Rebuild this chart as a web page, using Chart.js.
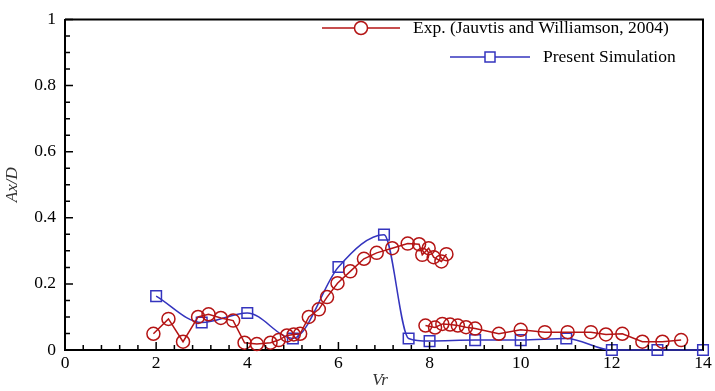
<!DOCTYPE html>
<html>
<head>
<meta charset="utf-8">
<script src="https://cdn.jsdelivr.net/npm/chart.js@4"></script>
<style>
  html, body { margin: 0; padding: 0; background: #fff; }
  #wrap { width: 715px; height: 391px; }
</style>
</head>
<body>
<div id="wrap"><canvas id="chart" width="715" height="391"></canvas></div>
<script>
// Experiment (Jauvtis & Williamson 2004) - upper branch
const expVrUpper = [1.94, 2.27, 2.59, 2.92, 3.15, 3.42, 3.69, 3.94, 4.21, 4.51, 4.69, 4.87, 5.02, 5.16,
    5.35, 5.57, 5.75, 5.98, 6.26, 6.56, 6.84, 7.18, 7.52, 7.77, 7.84, 7.98, 8.09, 8.26, 8.37];
const expAxUpper = [0.049, 0.094, 0.025, 0.100, 0.108, 0.097, 0.089, 0.022, 0.018, 0.022, 0.030, 0.044, 0.047, 0.049,
    0.100, 0.123, 0.160, 0.202, 0.238, 0.276, 0.294, 0.308, 0.322, 0.320, 0.288, 0.308, 0.281, 0.268, 0.290];
// lower branch
const expVrLower = [7.91, 8.12, 8.28, 8.45, 8.62, 8.80, 9.00, 9.52, 10.0, 10.53, 11.03, 11.54, 11.87, 12.23, 12.67, 13.11, 13.52];
const expAxLower = [0.074, 0.068, 0.079, 0.077, 0.074, 0.069, 0.065, 0.049, 0.061, 0.054, 0.054, 0.054, 0.047, 0.049, 0.025, 0.025, 0.030];

// Present simulation
const simVr = [2, 3, 4, 5, 6, 7, 7.54, 8, 9, 10, 11, 12, 13, 14];
const simAx = [0.163, 0.083, 0.112, 0.035, 0.251, 0.349, 0.035, 0.027, 0.030, 0.030, 0.035, 0, 0, 0];

const xTicks = [0, 2, 4, 6, 8, 10, 12, 14];
const yTicks = [0, 0.2, 0.4, 0.6, 0.8, 1];

const RED = '#b41414';
const BLUE = '#3434be';
const FONT = '"Liberation Serif", "Times New Roman", serif';

const toPts = (xs, ys) => xs.map((x, i) => ({ x: x, y: ys[i] }));

// break the line between the two experimental branches
const expData = toPts(expVrUpper, expAxUpper)
    .concat([{ x: 8.4, y: null }])
    .concat(toPts(expVrLower, expAxLower));
const simData = toPts(simVr, simAx);

// frame, inward ticks, legend and axis titles
const decorPlugin = {
    id: 'decor',
    afterDraw(chart) {
        const ctx = chart.ctx;
        const a = chart.chartArea;
        const xs = chart.scales.x, ys = chart.scales.y;
        ctx.save();
        ctx.strokeStyle = '#000';
        ctx.lineWidth = 2;
        ctx.beginPath();
        ctx.moveTo(a.left, a.top);
        ctx.lineTo(a.right, a.top);
        ctx.lineTo(a.right, a.bottom);
        ctx.stroke();

        // ticks
        ctx.lineWidth = 1.5;
        ctx.beginPath();
        for (let v = 0; v <= 14.001; v += 0.4) {
            const px = xs.getPixelForValue(v);
            const major = Math.abs(v / 2 - Math.round(v / 2)) < 1e-6;
            ctx.moveTo(px, a.bottom);
            ctx.lineTo(px, a.bottom - (major ? 8 : 5));
        }
        for (let v = 0; v <= 1.0001; v += 0.05) {
            const py = ys.getPixelForValue(v);
            const major = Math.abs(v / 0.2 - Math.round(v / 0.2)) < 1e-6;
            ctx.moveTo(a.left, py);
            ctx.lineTo(a.left + (major ? 8 : 5), py);
        }
        ctx.stroke();

        // legend
        ctx.font = '17.5px ' + FONT;
        ctx.textBaseline = 'middle';
        ctx.fillStyle = '#000';
        ctx.lineWidth = 1.5;
        ctx.strokeStyle = RED;
        ctx.beginPath();
        ctx.moveTo(322, 28); ctx.lineTo(400, 28);
        ctx.stroke();
        ctx.beginPath();
        ctx.arc(361, 28, 6.5, 0, Math.PI * 2);
        ctx.fillStyle = '#fff';
        ctx.fill();
        ctx.stroke();
        ctx.fillStyle = '#000';
        ctx.fillText('Exp. (Jauvtis and Williamson, 2004)', 413, 28);

        ctx.strokeStyle = BLUE;
        ctx.beginPath();
        ctx.moveTo(450, 57); ctx.lineTo(530, 57);
        ctx.stroke();
        ctx.fillStyle = '#fff';
        ctx.fillRect(485, 52, 10, 10);
        ctx.strokeRect(485, 52, 10, 10);
        ctx.fillStyle = '#000';
        ctx.fillText('Present Simulation', 543, 57);

        // axis titles
        ctx.font = 'italic 17px ' + FONT;
        ctx.textAlign = 'center';
        ctx.fillStyle = '#333';
        ctx.fillText('Vr', (a.left + a.right) / 2 - 4, 381);
        ctx.translate(13, (a.top + a.bottom) / 2);
        ctx.rotate(-Math.PI / 2);
        ctx.fillText('Ax/D', 0, 0);
        ctx.restore();
    }
};

new Chart(document.getElementById('chart'), {
    type: 'scatter',
    data: {
        datasets: [{
            label: 'Exp. (Jauvtis and Williamson, 2004)',
            data: expData,
            showLine: true,
            spanGaps: false,
            borderColor: RED,
            borderWidth: 1.5,
            pointStyle: 'circle',
            pointRadius: 6.5,
            pointBorderWidth: 1.5,
            pointBorderColor: RED,
            pointBackgroundColor: 'rgba(0,0,0,0)',
            tension: 0
        }, {
            label: 'Present Simulation',
            data: simData,
            showLine: true,
            borderColor: BLUE,
            borderWidth: 1.5,
            pointStyle: 'rect',
            pointRadius: 7.5,
            pointBorderWidth: 1.5,
            pointBorderColor: BLUE,
            pointBackgroundColor: 'rgba(0,0,0,0)',
            cubicInterpolationMode: 'monotone'
        }]
    },
    options: {
        responsive: false,
        animation: false,
        clip: false,
        layout: { padding: { top: 12, right: 12, left: 0, bottom: 0 } },
        plugins: { legend: { display: false }, tooltip: { enabled: false } },
        scales: {
            x: {
                type: 'linear',
                min: 0, max: 14,
                afterBuildTicks: s => { s.ticks = xTicks.map(v => ({ value: v })); },
                afterFit: s => { s.height = 41; },
                grid: { display: false, drawTicks: false },
                border: { display: true, color: '#000', width: 2 },
                ticks: { color: '#000', padding: 3, font: { family: FONT, size: 17.5 } }
            },
            y: {
                type: 'linear',
                min: 0, max: 1,
                afterBuildTicks: s => { s.ticks = yTicks.map(v => ({ value: v })); },
                afterFit: s => { s.width = 65; },
                grid: { display: false, drawTicks: false },
                border: { display: true, color: '#000', width: 2 },
                ticks: {
                    color: '#000', padding: 9, font: { family: FONT, size: 17.5 },
                    callback: v => String(+v.toFixed(1))
                }
            }
        }
    },
    plugins: [decorPlugin]
});
</script>
</body>
</html>
